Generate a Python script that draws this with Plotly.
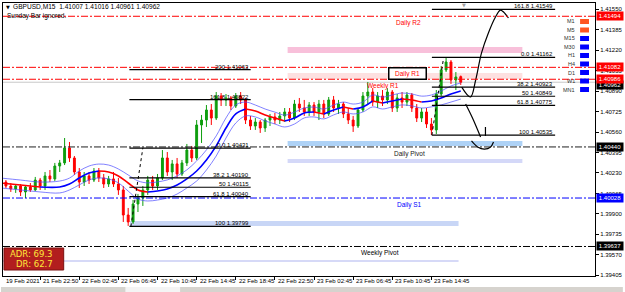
import plotly.graph_objects as go

# ---------------- data ----------------
bar_index = list(range(2, 190, 2))  # M15 bar positions (merged pairs)
opens = [1.40157, 1.40125, 1.40101, 1.40125, 1.40077, 1.40117, 1.40093, 1.40173, 1.40125, 1.40206,
         1.40182, 1.40286, 1.40311, 1.40432, 1.40351, 1.40238, 1.40157, 1.40206, 1.40173, 1.40246,
         1.40190, 1.40141, 1.40182, 1.40141, 1.40093, 1.39891, 1.39835, 1.39980, 1.40028, 1.40093,
         1.40173, 1.40125, 1.40190, 1.40351, 1.40238, 1.40303, 1.40222, 1.40311, 1.40415, 1.40351,
         1.40617, 1.40657, 1.40738, 1.40673, 1.40851, 1.40819, 1.40835, 1.40770, 1.40851, 1.40819,
         1.40657, 1.40609, 1.40641, 1.40593, 1.40657, 1.40682, 1.40657, 1.40690, 1.40722, 1.40673,
         1.40786, 1.40754, 1.40722, 1.40778, 1.40722, 1.40786, 1.40706, 1.40819, 1.40754, 1.40786,
         1.40706, 1.40657, 1.40609, 1.40738, 1.40851, 1.40883, 1.40802, 1.40851, 1.40819, 1.40883,
         1.40754, 1.40835, 1.40802, 1.40859, 1.40754, 1.40673, 1.40722, 1.40625, 1.40577, 1.40867,
         1.41061, 1.41125, 1.40980, 1.41007]
highs = [1.40173, 1.40149, 1.40141, 1.40141, 1.40133, 1.40149, 1.40198, 1.40190, 1.40238, 1.40254,
         1.40311, 1.40335, 1.40512, 1.40480, 1.40367, 1.40270, 1.40238, 1.40238, 1.40270, 1.40270,
         1.40222, 1.40206, 1.40238, 1.40190, 1.40125, 1.39948, 1.40012, 1.40061, 1.40125, 1.40206,
         1.40206, 1.40222, 1.40415, 1.40399, 1.40335, 1.40351, 1.40335, 1.40464, 1.40448, 1.40657,
         1.40698, 1.40778, 1.40786, 1.40883, 1.40875, 1.40867, 1.40851, 1.40875, 1.40883, 1.40835,
         1.40690, 1.40673, 1.40657, 1.40673, 1.40706, 1.40714, 1.40722, 1.40754, 1.40754, 1.40819,
         1.40835, 1.40819, 1.40802, 1.40802, 1.40819, 1.40819, 1.40843, 1.40851, 1.40819, 1.40802,
         1.40754, 1.40690, 1.40754, 1.40883, 1.40964, 1.40915, 1.40883, 1.40899, 1.40915, 1.40899,
         1.40867, 1.40883, 1.40883, 1.40875, 1.40786, 1.40754, 1.40754, 1.40673, 1.40899, 1.41093,
         1.41162, 1.41141, 1.41044, 1.41016]
lows = [1.40109, 1.40077, 1.40069, 1.40044, 1.40028, 1.40077, 1.40085, 1.40093, 1.40093, 1.40157,
        1.40165, 1.40238, 1.40294, 1.40319, 1.40214, 1.40109, 1.40125, 1.40141, 1.40157, 1.40157,
        1.40109, 1.40117, 1.40117, 1.40053, 1.39835, 1.39803, 1.39819, 1.39915, 1.39964, 1.40053,
        1.40093, 1.40093, 1.40173, 1.40206, 1.40173, 1.40190, 1.40206, 1.40286, 1.40319, 1.40335,
        1.40472, 1.40601, 1.40617, 1.40657, 1.40770, 1.40770, 1.40738, 1.40754, 1.40786, 1.40625,
        1.40577, 1.40577, 1.40553, 1.40561, 1.40609, 1.40625, 1.40625, 1.40641, 1.40641, 1.40657,
        1.40722, 1.40690, 1.40690, 1.40690, 1.40657, 1.40673, 1.40690, 1.40722, 1.40706, 1.40673,
        1.40625, 1.40561, 1.40593, 1.40722, 1.40786, 1.40770, 1.40754, 1.40770, 1.40786, 1.40722,
        1.40722, 1.40754, 1.40770, 1.40722, 1.40641, 1.40641, 1.40593, 1.40536, 1.40544, 1.40851,
        1.41044, 1.40948, 1.40899, 1.40940]
closes = [1.40125, 1.40101, 1.40125, 1.40077, 1.40117, 1.40093, 1.40173, 1.40125, 1.40206, 1.40182,
          1.40286, 1.40311, 1.40432, 1.40351, 1.40238, 1.40157, 1.40206, 1.40173, 1.40246, 1.40190,
          1.40141, 1.40182, 1.40141, 1.40093, 1.39891, 1.39835, 1.39980, 1.40028, 1.40093, 1.40173,
          1.40125, 1.40190, 1.40351, 1.40238, 1.40303, 1.40222, 1.40311, 1.40415, 1.40351, 1.40617,
          1.40657, 1.40738, 1.40673, 1.40851, 1.40819, 1.40835, 1.40770, 1.40851, 1.40819, 1.40657,
          1.40609, 1.40641, 1.40593, 1.40657, 1.40682, 1.40657, 1.40690, 1.40722, 1.40673, 1.40786,
          1.40754, 1.40722, 1.40778, 1.40722, 1.40786, 1.40706, 1.40819, 1.40754, 1.40786, 1.40706,
          1.40657, 1.40609, 1.40738, 1.40851, 1.40883, 1.40802, 1.40851, 1.40819, 1.40883, 1.40754,
          1.40835, 1.40802, 1.40859, 1.40754, 1.40673, 1.40722, 1.40625, 1.40577, 1.40867, 1.41061,
          1.41125, 1.40980, 1.41004, 1.40962]

ma_bars = [0, 8, 16, 24, 28, 32, 36, 40, 44, 48, 52, 56, 60, 64, 68, 72, 76, 80, 84, 88,
           92, 96, 100, 104, 108, 112, 116, 120, 124, 128, 132, 136, 140, 144, 148, 152, 156, 160,
           164, 168, 172, 176, 180, 184, 188]
ma_mid = [1.40149, 1.40133, 1.40117, 1.40117, 1.40141, 1.40190, 1.40230, 1.40246, 1.40238, 1.40206,
          1.40149, 1.40093, 1.40077, 1.40085, 1.40101, 1.40133, 1.40182, 1.40246, 1.40335, 1.40448,
          1.40593, 1.40706, 1.40746, 1.40730, 1.40698, 1.40673, 1.40649, 1.40673, 1.40714, 1.40722,
          1.40706, 1.40738, 1.40762, 1.40746, 1.40762, 1.40811, 1.40794, 1.40811, 1.40827, 1.40819,
          1.40802, 1.40811, 1.40835, 1.40867, 1.40891]
ma_upper = [1.40189, 1.40173, 1.40157, 1.40165, 1.40189, 1.40246, 1.40286, 1.40302, 1.40294, 1.40262,
            1.40214, 1.40166, 1.40150, 1.40158, 1.40174, 1.40206, 1.40255, 1.40327, 1.40416, 1.40529,
            1.40674, 1.40779, 1.40802, 1.40778, 1.40746, 1.40721, 1.40697, 1.40721, 1.40754, 1.40762,
            1.40746, 1.40778, 1.40802, 1.40786, 1.40802, 1.40859, 1.40842, 1.40859, 1.40875, 1.40867,
            1.40850, 1.40859, 1.40891, 1.40932, 1.40956]
ma_lower = [1.40109, 1.40093, 1.40077, 1.40069, 1.40093, 1.40134, 1.40174, 1.40190, 1.40182, 1.40150,
            1.40084, 1.40020, 1.40004, 1.40012, 1.40028, 1.40060, 1.40109, 1.40165, 1.40254, 1.40367,
            1.40512, 1.40633, 1.40690, 1.40682, 1.40650, 1.40625, 1.40601, 1.40625, 1.40674, 1.40682,
            1.40666, 1.40698, 1.40722, 1.40706, 1.40722, 1.40763, 1.40746, 1.40763, 1.40779, 1.40771,
            1.40754, 1.40763, 1.40779, 1.40802, 1.40826]

pivot_names = ["Daily R2", "Daily R1", "Weekly R1", "Daily Pivot", "Daily S1", "Weekly Pivot"]
pivot_prices = [1.41494, 1.41082, 1.40986, 1.40440, 1.40028, 1.39637]
pivot_colors = ["#FF0000", "#FF0000", "#FF0000", "#202020", "#0000FF", "#000000"]
pivot_tag_colors = ["#FF0000", "#FF0000", "#FF0000", "#000000", "#0000FF", "#000000"]
bid_price = 1.40962

fibA_levels = ["200", "161.8", "0.0", "38.2", "50", "61.8", "100"]
fibA_prices = [1.41063, 1.40822, 1.40431, 1.40190, 1.40115, 1.40040, 1.39799]
fibA_span = [52.5, 102.1]
fibA_anchor_bars = [53.1, 58.0]
fibA_anchor_prices = [1.39799, 1.40431]

fibB_levels = ["161.8", "0.0", "38.2", "50", "61.8", "100"]
fibB_prices = [1.41549, 1.41162, 1.40923, 1.40849, 1.40775, 1.40535]
fibB_span = [176.2, 226.6]
fibB_anchor_bars = [176.2, 181.0]
fibB_anchor_prices = [1.40535, 1.41162]

zone_x0 = [117.2, 117.2, 117.2, 117.2, 52.7]
zone_x1 = [213.2, 213.2, 213.2, 213.2, 187.1]
zone_top = [1.41246, 1.41036, 1.40488, 1.40343, 1.39843]
zone_bot = [1.41198, 1.40988, 1.40448, 1.40311, 1.39803]
zone_colors = ["#F8C0DA", "#FDE0E0", "#AED2F6", "#D4D8F8", "#C8D6F6"]
zone_line_bars = [0.8, 187.1]
zone_line_price = 1.39520

arrow_up_bars = [188.4, 192.0, 194.1, 196.5, 199.3, 202.2, 204.2, 205.5, 207.5]
arrow_up_prices = [1.40923, 1.40843, 1.40980, 1.41198, 1.41359, 1.41488, 1.41544, 1.41528, 1.41480]
arrow_dn_bars = [190.0, 192.8, 196.1]
arrow_dn_prices = [1.40786, 1.40673, 1.40520]
arrow_tick_bars = [198.1, 198.1]
arrow_tick_prices = [1.40601, 1.40528]
arrow_cup_bars = [192.4, 194.9, 197.7, 200.2, 201.4]
arrow_cup_prices = [1.40488, 1.40440, 1.40423, 1.40440, 1.40480]

y_ticks = [1.41550, 1.41385, 1.41220, 1.41055, 1.40890, 1.40725, 1.40560, 1.40395,
           1.40230, 1.40065, 1.39900, 1.39735, 1.39570, 1.39405]
x_tick_bars = [16, 32, 48, 64, 80, 96, 112, 128, 144, 160, 176]
x_tick_labels = ["21 Feb 22:50", "22 Feb 02:45", "22 Feb 06:45", "22 Feb 10:45", "22 Feb 14:45",
                 "22 Feb 18:45", "22 Feb 22:50", "23 Feb 02:45", "23 Feb 06:45", "23 Feb 10:45",
                 "23 Feb 14:45"]
first_label = "19 Feb 2021"

tf_names = ["M1", "M5", "M15", "M30", "H1", "H4", "D1", "W1", "MN1"]
tf_colors = ["#FF5522", "#FF5522", "#0000FF", "#0000FF", "#0000FF", "#0000FF", "#0000FF", "#0000FF", "#0000FF"]

header = "GBPUSD,M15  1.41007 1.41016 1.40961 1.40962"
subheader = "Sunday Bar ignored."
adr_text = ["ADR: 69.3", "DR: 62.7"]

# ---------------- layout helpers (pixel -> paper) ----------------
PL, PR, PT, PB = 2, 597, 3, 276
def fx(px):
    return (px - PL) / (PR - PL)
def fy(py):
    return (PB - py) / (PB - PT)

FONT = "Liberation Sans, Arial, sans-serif"
GREEN = "#0E9E0E"
RED = "#FF0000"

fig = go.Figure()

fig.add_trace(go.Candlestick(
    x=bar_index, open=opens, high=highs, low=lows, close=closes,
    increasing=dict(line=dict(color=GREEN, width=1), fillcolor=GREEN),
    decreasing=dict(line=dict(color=RED, width=1), fillcolor=RED),
    whiskerwidth=0, showlegend=False, hoverinfo="skip"))

# envelope bands
for band in (ma_upper, ma_lower):
    fig.add_trace(go.Scatter(x=ma_bars, y=band, mode="lines",
                             line=dict(color="#4A4AFF", width=0.7, shape="spline"),
                             showlegend=False, hoverinfo="skip"))

# slope-coloured moving average
runs = []
start = 0
for i in range(1, len(ma_mid) - 1):
    d_prev = ma_mid[i] < ma_mid[i - 1]
    d_next = ma_mid[i + 1] < ma_mid[i]
    if d_prev != d_next:
        runs.append((start, i, d_prev))
        start = i
runs.append((start, len(ma_mid) - 1, ma_mid[-1] < ma_mid[-2]))
for s, e, falling in runs:
    fig.add_trace(go.Scatter(x=ma_bars[s:e + 1], y=ma_mid[s:e + 1], mode="lines",
                             line=dict(color=RED if falling else "#0000FF", width=1.6, shape="spline"),
                             showlegend=False, hoverinfo="skip"))

# hand drawn arrows
for xs, ys in ((arrow_up_bars, arrow_up_prices), (arrow_dn_bars, arrow_dn_prices),
               (arrow_tick_bars, arrow_tick_prices), (arrow_cup_bars, arrow_cup_prices)):
    fig.add_trace(go.Scatter(x=xs, y=ys, mode="lines",
                             line=dict(color="#000000", width=1.2, shape="spline"),
                             showlegend=False, hoverinfo="skip", cliponaxis=False))

shapes = []
annotations = []

# zones
for x0, x1, t, b, c in zip(zone_x0, zone_x1, zone_top, zone_bot, zone_colors):
    shapes.append(dict(type="rect", xref="x", yref="y", x0=x0, x1=x1, y0=b, y1=t,
                       fillcolor=c, line=dict(width=0), layer="below"))
shapes.append(dict(type="line", xref="x", yref="y", x0=zone_line_bars[0], x1=zone_line_bars[1],
                   y0=zone_line_price, y1=zone_line_price, line=dict(color="#C8CCF4", width=1.5),
                   layer="below"))

# bid line
shapes.append(dict(type="line", xref="paper", yref="y", x0=0, x1=1, y0=bid_price, y1=bid_price,
                   line=dict(color="#C8C8C8", width=1), layer="below"))

# pivot lines
for p, c in zip(pivot_prices, pivot_colors):
    shapes.append(dict(type="line", xref="paper", yref="y", x0=0, x1=1, y0=p, y1=p,
                       line=dict(color=c, width=1, dash="7px,2px,2px,2px"), layer="above"))

# fibonacci
for levels, prices, span, ab, ap in ((fibA_levels, fibA_prices, fibA_span, fibA_anchor_bars, fibA_anchor_prices),
                                     (fibB_levels, fibB_prices, fibB_span, fibB_anchor_bars, fibB_anchor_prices)):
    for lv, p in zip(levels, prices):
        shapes.append(dict(type="line", xref="x", yref="y", x0=span[0], x1=span[1], y0=p, y1=p,
                           line=dict(color="#000000", width=1.2), layer="above"))
        annotations.append(dict(x=span[1], y=p, xref="x", yref="y", xanchor="right", yanchor="bottom",
                                text=f"{lv} {p:.5f}", showarrow=False, yshift=-2,
                                font=dict(family=FONT, size=6, color="#000000")))
    shapes.append(dict(type="line", xref="x", yref="y", x0=ab[0], x1=ab[1], y0=ap[0], y1=ap[1],
                       line=dict(color="#000000", width=1, dash="dot"), layer="above"))

# pivot labels
label_right_px = [424, 428, 402, 428, 425, 402]
for name, p, c, xr in zip(pivot_names, pivot_prices, pivot_colors, label_right_px):
    a = dict(x=fx(xr), y=p, xref="paper", yref="y", xanchor="right", yanchor="top",
             text=name, showarrow=False, yshift=-1,
             font=dict(family=FONT, size=6.5, color=c))
    if name == "Daily R1":
        a.update(bordercolor="#000000", borderwidth=1.5, borderpad=1, bgcolor="#FFFFFF", yshift=0,
                 width=34)
    annotations.append(a)

# right side price tags
annotations.append(dict(x=1, y=bid_price, xref="paper", yref="y", xanchor="left", xshift=1,
                        yshift=-3, text=f"{bid_price:.5f}", showarrow=False, bgcolor="#000000",
                        width=26, height=8, borderpad=0,
                        font=dict(family=FONT, size=6, color="#FFFFFF")))
for p, c in zip(pivot_prices, pivot_tag_colors):
    annotations.append(dict(x=1, y=p, xref="paper", yref="y", xanchor="left", xshift=1,
                            text=f"{p:.5f}", showarrow=False, bgcolor=c, width=26, height=8,
                            borderpad=0, font=dict(family=FONT, size=6, color="#FFFFFF")))

# x-axis labels (MT4 style, left aligned at tick)
annotations.append(dict(x=fx(3), y=fy(281), xref="paper", yref="paper", xanchor="left",
                        yanchor="middle", text=first_label, showarrow=False,
                        font=dict(family=FONT, size=6, color="#000000")))
for b, t in zip(x_tick_bars, x_tick_labels):
    annotations.append(dict(x=b, y=fy(281), xref="x", yref="paper", xanchor="left", xshift=1,
                            yanchor="middle", text=t, showarrow=False,
                            font=dict(family=FONT, size=6, color="#000000")))

# header
annotations.append(dict(x=fx(3.5), y=fy(7), xref="paper", yref="paper", xanchor="left", yanchor="middle",
                        text="\u25BC", showarrow=False, font=dict(family="DejaVu Sans", size=5, color="#000000")))
annotations.append(dict(x=fx(10), y=fy(7), xref="paper", yref="paper", xanchor="left", yanchor="middle",
                        text=header, showarrow=False, font=dict(family=FONT, size=6.6, color="#000000")))
annotations.append(dict(x=fx(4), y=fy(16), xref="paper", yref="paper", xanchor="left", yanchor="middle",
                        text=subheader, showarrow=False, font=dict(family=FONT, size=6.5, color="#000000")))
annotations.append(dict(x=fx(465), y=fy(5), xref="paper", yref="paper", xanchor="center", yanchor="middle",
                        text="\u25BC", showarrow=False, font=dict(family="DejaVu Sans", size=5, color="#A0A0A0")))

# timeframe legend
tf_y = [21.5, 30, 38.5, 47, 55.5, 64, 72.5, 81, 89.5]
for n, c, yy in zip(tf_names, tf_colors, tf_y):
    annotations.append(dict(x=fx(579), y=fy(yy), xref="paper", yref="paper", xanchor="right",
                            yanchor="middle", text=n, showarrow=False,
                            font=dict(family=FONT, size=5.5, color="#303030")))
    shapes.append(dict(type="rect", xref="paper", yref="paper", x0=fx(582), x1=fx(591),
                       y0=fy(yy + 2.5), y1=fy(yy - 2.5), fillcolor=c, line=dict(width=0)))

# ADR box
shapes.append(dict(type="rect", xref="paper", yref="paper", x0=fx(3), x1=fx(63), y0=fy(270), y1=fy(248),
                   fillcolor="#B21E1E", line=dict(color="#7A1010", width=1)))
annotations.append(dict(x=fx(7), y=fy(254), xref="paper", yref="paper", xanchor="left", yanchor="middle",
                        text=adr_text[0], showarrow=False,
                        font=dict(family="DejaVu Sans", size=8.5, color="#FFE83A")))
annotations.append(dict(x=fx(13), y=fy(264), xref="paper", yref="paper", xanchor="left", yanchor="middle",
                        text=adr_text[1], showarrow=False,
                        font=dict(family="DejaVu Sans", size=8.5, color="#FFE83A")))

# bottom tab strip
shapes.append(dict(type="rect", xref="paper", yref="paper", x0=fx(0), x1=fx(625), y0=fy(292), y1=fy(287),
                   fillcolor="#D6D3CE", line=dict(width=0)))
shapes.append(dict(type="rect", xref="paper", yref="paper", x0=fx(125), x1=fx(180), y0=fy(292), y1=fy(287),
                   fillcolor="#F4F4F4", line=dict(width=0)))

# y range from pixel geometry of the reference
Y_TOP, Y_BOT = 1.41601, 1.39399

fig.update_layout(
    width=625, height=292, autosize=False,
    margin=dict(l=PL, r=625 - PR, t=PT, b=292 - PB),
    paper_bgcolor="#FFFFFF", plot_bgcolor="#FFFFFF",
    showlegend=False, boxgap=0.45,
    shapes=shapes, annotations=annotations,
    xaxis=dict(range=[0.81, 242.9], showgrid=False, zeroline=False, rangeslider=dict(visible=False),
               showline=True, mirror=True, linecolor="#000000", linewidth=1,
               tickmode="array", tickvals=x_tick_bars, ticks="outside", ticklen=3, tickcolor="#000000",
               showticklabels=False, fixedrange=True),
    yaxis=dict(range=[Y_BOT, Y_TOP], side="right", showgrid=False, zeroline=False,
               showline=True, mirror=True, linecolor="#000000", linewidth=1,
               tickmode="array", tickvals=y_ticks, ticktext=[f"{v:.5f}" for v in y_ticks],
               ticks="outside", ticklen=3, tickcolor="#000000",
               tickfont=dict(family=FONT, size=6, color="#000000"), fixedrange=True),
)

fig.write_html("out.html")
